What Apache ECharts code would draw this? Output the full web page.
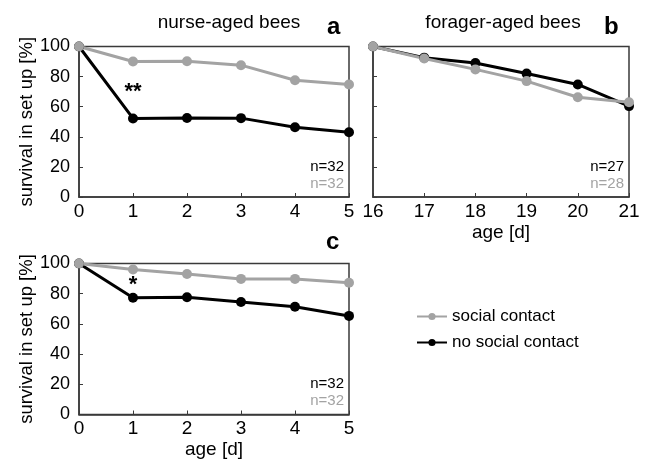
<!DOCTYPE html>
<html>
<head>
<meta charset="utf-8">
<script src="https://cdn.jsdelivr.net/npm/echarts@6/dist/echarts.min.js"></script>
<style>
  html, body { margin: 0; padding: 0; background: #fff; }
  #chart { width: 647px; height: 463px; }
</style>
</head>
<body>
<div id="chart"></div>
<script>
// data
const nurseAges = [0, 1, 2, 3, 4, 5]
const foragerAges = [16, 17, 18, 19, 20, 21]
const yTicks = [0, 20, 40, 60, 80, 100]

const nurseSocial = [100, 90, 90.2, 87.6, 77.6, 74.8]
const nurseNoSocial = [100, 52.2, 52.5, 52.4, 46.3, 43]
const foragerSocial = [100, 92, 84.8, 77, 66.3, 62.9]
const foragerNoSocial = [100, 92.6, 89, 82, 74.8, 60.4]
const nurseSocial2 = [100, 96, 93, 89.8, 89.8, 87.2]
const nurseNoSocial2 = [100, 77.3, 77.6, 74.5, 71.4, 65.3]

const nLabels = [['n=32', 'n=32'], ['n=27', 'n=28'], ['n=32', 'n=32']]
const stars = ['**', null, '*']
const starY = [70, null, 85.5]

const GRAY = '#a3a3a3'
const BLACK = '#000'
const AXIS = '#3a3a3a'
const FONT = 'Liberation Sans'

const chart = echarts.init(document.getElementById('chart'))

const grids = [
  { left: 79, top: 46.5, width: 270, height: 150.5 },
  { left: 373, top: 46.5, width: 256, height: 150.5 },
  { left: 79, top: 263.5, width: 270, height: 151 }
]

function xAxisFor(i, ages, showName) {
  return {
    gridIndex: i,
    type: 'value',
    min: ages[0],
    max: ages[ages.length - 1],
    interval: 1,
    name: showName ? 'age [d]' : '',
    nameLocation: 'middle',
    nameGap: 26,
    nameTextStyle: { color: '#000', fontSize: 19, fontFamily: FONT },
    axisLine: { lineStyle: { color: AXIS, width: 1.5 } },
    axisTick: { inside: true, length: 4, lineStyle: { color: AXIS } },
    axisLabel: { color: '#000', fontSize: 19, fontFamily: FONT, margin: 5 },
    splitLine: { show: false }
  }
}

function yAxisFor(i, showLabels) {
  return {
    gridIndex: i,
    type: 'value',
    min: yTicks[0],
    max: yTicks[yTicks.length - 1],
    interval: 20,
    name: showLabels ? 'survival in set up [%]' : '',
    nameLocation: 'middle',
    nameRotate: 90,
    nameGap: 36,
    nameTextStyle: { color: '#000', fontSize: 18.5, fontFamily: FONT },
    axisLine: { show: true, lineStyle: { color: AXIS, width: 1.5 } },
    axisTick: { show: true, inside: true, length: 4, lineStyle: { color: AXIS } },
    axisLabel: { show: showLabels, color: '#000', fontSize: 18, fontFamily: FONT, margin: 9 },
    splitLine: { show: false }
  }
}

function pairs(xs, ys) {
  return xs.map((x, k) => [x, ys[k]])
}

function lineSeries(name, color, i, xs, ys, star) {
  const s = {
    name: name,
    type: 'line',
    xAxisIndex: i,
    yAxisIndex: i,
    data: pairs(xs, ys),
    symbol: 'circle',
    symbolSize: 10,
    lineStyle: { color: color, width: 3 },
    itemStyle: { color: color },
    animation: false
  }
  if (star) {
    s.markPoint = {
      symbol: 'circle',
      symbolSize: 0,
      data: [{ coord: [xs[1], star.y] }],
      label: {
        show: true,
        position: 'inside',
        formatter: star.text,
        color: '#000',
        fontSize: 22,
        fontWeight: 'bold',
        fontFamily: FONT
      }
    }
  }
  return s
}

const panelData = [
  [nurseAges, nurseNoSocial, nurseSocial],
  [foragerAges, foragerNoSocial, foragerSocial],
  [nurseAges, nurseNoSocial2, nurseSocial2]
]

const series = []
panelData.forEach((p, i) => {
  const star = stars[i] ? { text: stars[i], y: starY[i] } : null
  series.push(lineSeries('no social contact', BLACK, i, p[0], p[1], star))
  series.push(lineSeries('social contact', GRAY, i, p[0], p[2], null))
})

const graphics = []
grids.forEach((g, i) => {
  const right = g.left + g.width - 5
  const bottom = g.top + g.height
  graphics.push({ type: 'text', right: 647 - right, top: bottom - 38,
    style: { text: nLabels[i][0], fill: '#000', font: '15px "' + FONT + '"' } })
  graphics.push({ type: 'text', right: 647 - right, top: bottom - 21,
    style: { text: nLabels[i][1], fill: GRAY, font: '15px "' + FONT + '"' } })
})
graphics.push({ type: 'text', left: 327, top: 15, style: { text: 'a', fill: '#000', font: 'bold 24px "' + FONT + '"' } })
graphics.push({ type: 'text', left: 604, top: 15, style: { text: 'b', fill: '#000', font: 'bold 24px "' + FONT + '"' } })
graphics.push({ type: 'text', left: 326, top: 230, style: { text: 'c', fill: '#000', font: 'bold 24px "' + FONT + '"' } })

chart.setOption({
  backgroundColor: '#fff',
  animation: false,
  title: [
    { text: 'nurse-aged bees', left: 224, top: 8, textAlign: 'center',
      textStyle: { color: '#000', fontSize: 19, fontWeight: 'normal', fontFamily: FONT } },
    { text: 'forager-aged bees', left: 498, top: 8, textAlign: 'center',
      textStyle: { color: '#000', fontSize: 19, fontWeight: 'normal', fontFamily: FONT } }
  ],
  legend: {
    data: ['social contact', 'no social contact'],
    orient: 'vertical',
    left: 411,
    top: 303,
    itemWidth: 30,
    itemHeight: 9,
    itemGap: 9,
    textStyle: { color: '#000', fontSize: 17, fontFamily: FONT }
  },
  grid: grids.map(g => Object.assign({ show: true, borderColor: AXIS, borderWidth: 1.5, backgroundColor: 'transparent' }, g)),
  xAxis: [xAxisFor(0, nurseAges, false), xAxisFor(1, foragerAges, true), xAxisFor(2, nurseAges, true)],
  yAxis: [yAxisFor(0, true), yAxisFor(1, false), yAxisFor(2, true)],
  series: series,
  graphic: graphics
})
</script>
</body>
</html>
